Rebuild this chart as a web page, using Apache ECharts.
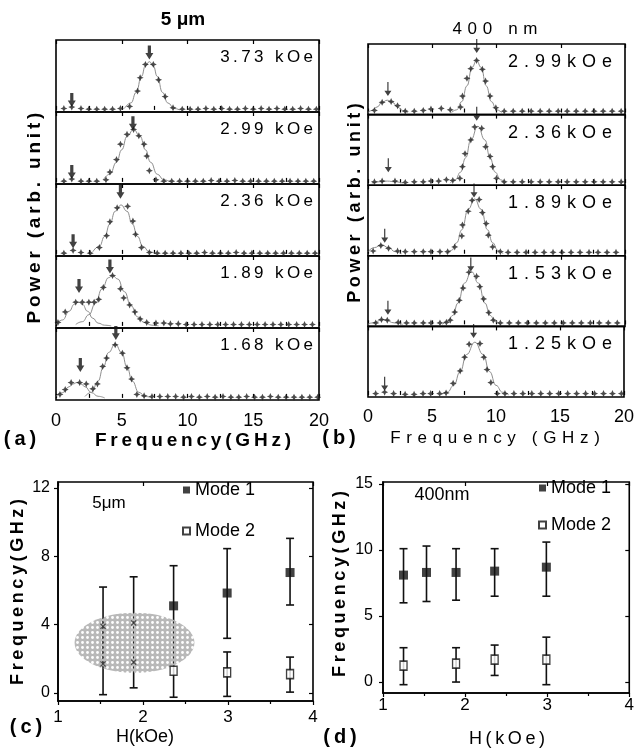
<!DOCTYPE html>
<html>
<head>
<meta charset="utf-8">
<script src="https://cdn.jsdelivr.net/npm/echarts@6/dist/echarts.min.js"></script>
<style>
html, body { margin: 0; padding: 0; background: #fff; }
#chart { width: 637px; height: 748px; }
</style>
</head>
<body>
<div id="chart"></div>
<script>
// ---- spectra, panel (a): 5 um disk, [frequency GHz, power]
const fieldsA = ['3.73 kOe', '2.99 kOe', '2.36 kOe', '1.89 kOe', '1.68 kOe'];
const a373 = [[0.6,0.02],[1.2,0.04],[1.9,0.02],[2.5,0.01],[3.1,0.01],[3.7,0.01],[4.3,0.01],[4.9,0.02],[5.6,0.05],[6.2,0.27],[6.4,0.46],[6.8,0.65],[7.4,0.65],[7.8,0.43],[8.3,0.19],[8.9,0.03],[9.6,0.01],[10.2,0.01],[10.8,0.01],[11.4,0.02],[12.0,0.01],[12.6,0.02],[13.2,0.01],[13.8,0.01],[14.4,0.02],[15.0,0.01],[15.6,0.02],[16.2,0.01],[16.8,0.02],[17.4,0.01],[18.0,0.01],[18.6,0.02],[19.2,0.01],[19.8,0.01]];
const a299 = [[0.6,0.01],[1.2,0.04],[1.9,0.01],[2.5,0.01],[3.1,0.01],[3.8,0.03],[4.1,0.14],[4.6,0.32],[4.9,0.54],[5.4,0.68],[5.9,0.75],[6.3,0.66],[6.7,0.54],[6.9,0.37],[7.1,0.16],[7.6,0.03],[8.2,0.01],[8.8,0.01],[9.4,0.01],[10.0,0.01],[10.6,0.01],[11.2,0.01],[11.8,0.02],[12.4,0.01],[13.0,0.01],[13.6,0.02],[14.2,0.01],[14.8,0.01],[15.4,0.01],[16.0,0.01],[16.6,0.01],[17.2,0.01],[17.8,0.01],[18.4,0.01],[19.0,0.01],[19.6,0.01]];
const a236 = [[0.6,0.01],[1.3,0.05],[1.9,0.02],[2.6,0.01],[3.3,0.09],[3.85,0.26],[4.1,0.46],[4.65,0.66],[5.45,0.68],[5.85,0.47],[6.05,0.28],[6.5,0.09],[7.1,0.02],[7.7,0.01],[8.3,0.01],[8.9,0.01],[9.5,0.01],[10.1,0.01],[10.7,0.01],[11.3,0.02],[11.9,0.01],[12.5,0.01],[13.1,0.01],[13.7,0.02],[14.3,0.01],[14.9,0.01],[15.5,0.01],[16.1,0.01],[16.7,0.01],[17.3,0.01],[17.9,0.01],[18.5,0.01],[19.1,0.01],[19.7,0.01]];
const a189 = [[0.15,0.05],[0.7,0.2],[1.5,0.34],[2.0,0.34],[2.5,0.34],[2.9,0.34],[3.25,0.38],[3.6,0.55],[4.3,0.72],[4.9,0.53],[5.15,0.4],[5.6,0.3],[6.0,0.2],[6.4,0.1],[6.9,0.05],[7.6,0.04],[8.2,0.04],[8.7,0.03],[9.3,0.03],[9.9,0.02],[10.5,0.02],[11.1,0.02],[11.7,0.02],[12.3,0.02],[12.9,0.02],[13.5,0.02],[14.1,0.02],[14.7,0.02],[15.3,0.02],[15.9,0.02],[16.5,0.02],[17.1,0.02],[17.7,0.02],[18.3,0.02],[18.9,0.02],[19.5,0.02]];
const a168 = [[0.3,0.05],[0.7,0.12],[1.15,0.22],[1.8,0.22],[2.3,0.2],[2.8,0.13],[3.15,0.2],[3.55,0.45],[3.85,0.57],[4.5,0.76],[5.05,0.64],[5.4,0.43],[5.75,0.27],[6.15,0.05],[6.7,0.03],[7.3,0.02],[7.9,0.02],[8.5,0.02],[9.1,0.02],[9.7,0.01],[10.3,0.02],[10.9,0.01],[11.5,0.02],[12.1,0.01],[12.7,0.02],[13.3,0.01],[13.9,0.01],[14.5,0.02],[15.1,0.01],[15.7,0.01],[16.3,0.02],[16.9,0.01],[17.5,0.01],[18.1,0.01],[18.7,0.01],[19.3,0.01],[19.9,0.01]];
// fitted curves
const fitA373 = [[5.2,0.02],[5.7,0.1],[6.1,0.25],[6.5,0.48],[6.8,0.63],[7.1,0.69],[7.4,0.63],[7.7,0.48],[8.1,0.25],[8.5,0.1],[9.0,0.02],[9.4,0]];
const fitA299 = [[3.6,0.03],[4.1,0.11],[4.6,0.28],[5.0,0.46],[5.4,0.65],[5.9,0.75],[6.4,0.65],[6.8,0.46],[7.2,0.28],[7.7,0.11],[8.2,0.03],[8.7,0]];
const fitA236 = [[2.8,0.03],[3.3,0.11],[3.7,0.25],[4.1,0.43],[4.5,0.61],[4.95,0.7],[5.4,0.61],[5.8,0.43],[6.2,0.25],[6.6,0.11],[7.1,0.03],[7.6,0]];
const fitA189m2 = [[0,0.02],[0.5,0.085],[1.0,0.21],[1.4,0.31],[1.7,0.34],[2.0,0.31],[2.4,0.21],[2.8,0.11],[3.2,0.04],[3.7,0.01],[4.2,0]];
const fitA189m1 = [[1.5,0.02],[2.0,0.06],[2.5,0.16],[3.0,0.32],[3.5,0.53],[4.0,0.69],[4.3,0.72],[4.7,0.67],[5.2,0.49],[5.7,0.29],[6.2,0.13],[6.7,0.05],[7.3,0.01],[7.8,0]];
const fitA168m2 = [[0,0.023],[0.5,0.075],[1.0,0.16],[1.3,0.2],[1.6,0.22],[1.9,0.2],[2.2,0.16],[2.7,0.075],[3.2,0.023],[3.7,0]];
const fitA168m1 = [[2.2,0.02],[2.7,0.08],[3.2,0.24],[3.6,0.44],[4.0,0.65],[4.5,0.77],[5.0,0.65],[5.4,0.44],[5.8,0.24],[6.3,0.08],[6.8,0.02],[7.3,0]];
// arrow tips [frequency, power]: mode 1, mode 2
const arrowsA = [[[7.1,0.72],[1.2,0.04]], [[5.85,0.74],[1.2,0.04]], [[4.9,0.79],[1.3,0.08]], [[4.1,0.75],[1.75,0.47]], [[4.55,0.83],[1.85,0.37]]];

// ---- spectra, panel (b): 400 nm disk
const fieldsB = ['2.99kOe', '2.36kOe', '1.89kOe', '1.53kOe', '1.25kOe'];
const b299 = [[0.5,0.03],[1.1,0.15],[1.8,0.16],[2.3,0.1],[2.9,0.02],[3.6,0.02],[4.3,0.03],[4.9,0.05],[5.7,0.06],[6.4,0.04],[7.2,0.08],[7.35,0.24],[7.7,0.5],[8.0,0.64],[8.45,0.76],[8.9,0.63],[9.15,0.46],[9.5,0.24],[9.95,0.07],[10.6,0.02],[11.3,0.02],[12.0,0.02],[12.7,0.02],[13.4,0.02],[14.1,0.02],[14.8,0.02],[15.5,0.02],[16.2,0.02],[16.9,0.02],[17.6,0.02],[18.3,0.02],[19.0,0.02],[19.7,0.02]];
const b236 = [[0.5,0.02],[1.1,0.03],[2.1,0.03],[2.9,0.01],[3.6,0.02],[4.3,0.02],[4.9,0.03],[5.5,0.03],[6.1,0.05],[6.6,0.04],[7.15,0.07],[7.35,0.24],[7.55,0.43],[8.0,0.63],[8.3,0.82],[8.85,0.8],[9.15,0.53],[9.5,0.39],[9.7,0.24],[10.0,0.07],[10.6,0.02],[11.3,0.02],[12.0,0.02],[12.7,0.02],[13.4,0.02],[14.1,0.02],[14.8,0.02],[15.5,0.02],[16.2,0.02],[16.9,0.02],[17.6,0.02],[18.3,0.02],[19.0,0.02],[19.7,0.02]];
const b189 = [[0.4,0.04],[1.0,0.12],[1.6,0.08],[2.3,0.04],[2.9,0.03],[3.6,0.03],[4.3,0.03],[4.9,0.03],[5.6,0.03],[6.2,0.03],[6.75,0.1],[7.3,0.26],[7.35,0.42],[7.8,0.62],[8.1,0.78],[8.65,0.79],[8.9,0.6],[9.2,0.44],[9.36,0.27],[9.7,0.1],[10.3,0.03],[10.9,0.02],[11.6,0.02],[12.3,0.02],[13.0,0.02],[13.7,0.02],[14.4,0.02],[15.1,0.02],[15.8,0.02],[16.5,0.02],[17.2,0.02],[17.9,0.02],[18.6,0.02],[19.3,0.02]];
const b153 = [[0.6,0.02],[1.05,0.07],[1.5,0.06],[2.35,0.03],[3.0,0.02],[3.6,0.02],[4.3,0.02],[4.9,0.02],[5.6,0.02],[6.1,0.03],[6.4,0.06],[6.75,0.18],[7.1,0.35],[7.4,0.53],[7.85,0.76],[8.45,0.7],[8.7,0.55],[9.0,0.37],[9.4,0.17],[9.75,0.06],[10.3,0.02],[11.0,0.02],[11.7,0.02],[12.4,0.02],[13.1,0.02],[13.8,0.02],[14.5,0.02],[15.2,0.02],[15.9,0.02],[16.6,0.02],[17.3,0.02],[18.0,0.02],[18.7,0.02],[19.4,0.02]];
const b125 = [[0.6,0.02],[1.3,0.04],[2.0,0.02],[2.9,0.01],[3.6,0.01],[4.3,0.02],[4.9,0.02],[5.6,0.02],[6.1,0.03],[6.65,0.17],[7.2,0.35],[7.55,0.55],[7.9,0.74],[8.75,0.75],[9.05,0.55],[9.3,0.37],[9.6,0.18],[10.1,0.02],[10.7,0.02],[11.4,0.02],[12.1,0.02],[12.8,0.02],[13.5,0.02],[14.2,0.02],[14.9,0.02],[15.6,0.02],[16.3,0.02],[17.0,0.02],[17.7,0.02],[18.4,0.02],[19.1,0.02],[19.8,0.02]];
const fitB299 = [[6.5,0],[6.9,0.04],[7.3,0.16],[7.7,0.39],[8.1,0.66],[8.45,0.76],[8.8,0.66],[9.2,0.39],[9.6,0.16],[10.0,0.04],[10.4,0]];
const fitB299m2 = [[0,0],[0.3,0.03],[0.7,0.08],[1.1,0.15],[1.5,0.18],[1.9,0.15],[2.3,0.08],[2.7,0.03],[3.1,0]];
const fitB236 = [[6.4,0],[6.8,0.05],[7.2,0.16],[7.6,0.37],[8.0,0.63],[8.55,0.83],[9.1,0.63],[9.5,0.37],[9.9,0.16],[10.3,0.05],[10.7,0]];
const fitB236m2 = [[0.3,0],[0.9,0.02],[1.5,0.03],[2.1,0.02],[2.7,0]];
const fitB189 = [[6.1,0],[6.5,0.05],[6.9,0.16],[7.3,0.35],[7.8,0.65],[8.3,0.8],[8.8,0.65],[9.3,0.35],[9.7,0.16],[10.1,0.05],[10.5,0]];
const fitB189m2 = [[0,0.03],[0.5,0.09],[1.05,0.13],[1.6,0.09],[2.1,0.03],[2.6,0]];
const fitB153 = [[5.8,0],[6.2,0.04],[6.6,0.13],[7.0,0.31],[7.5,0.6],[8.05,0.77],[8.6,0.6],[9.1,0.31],[9.5,0.13],[9.9,0.04],[10.3,0]];
const fitB153m2 = [[0,0],[0.3,0.02],[1.2,0.07],[2.1,0.02],[2.7,0]];
const fitB125 = [[5.7,0],[6.2,0.04],[6.7,0.14],[7.2,0.34],[7.7,0.59],[8.35,0.77],[9.0,0.59],[9.5,0.34],[10.0,0.14],[10.5,0.04],[11.0,0]];
const arrowsB = [[[8.46,0.87],[1.55,0.24]], [[8.46,0.91],[1.58,0.16]], [[8.25,0.82],[1.3,0.16]], [[8.0,0.77],[1.55,0.14]], [[8.25,0.83],[1.3,0.06]]];

// ---- panel (c): 5 um, frequency vs field
const cH1 = [2.36, 2.99, 3.73];
const cMode1 = [5.1, 5.85, 7.05];
const cMode1Lo = [2.8, 3.2, 5.15];
const cMode1Hi = [7.45, 8.45, 9.05];
const cH2 = [2.36, 2.99, 3.73];
const cMode2 = [1.3, 1.2, 1.1];
const cMode2Lo = [-0.25, -0.2, 0.05];
const cMode2Hi = [2.8, 2.4, 2.1];
const cOldH = [1.53, 1.89];
const cOldLo = [-0.1, 0.3];
const cOldHi = [6.2, 6.8];
const cOldUp = [3.9, 4.1];
const cOldDn = [1.7, 1.8];
const cOval = [1.9, 2.94, 0.705, 1.76]; // centre H, centre f, half-width H, half-height f

// ---- panel (d): 400 nm
const dH1 = [1.25, 1.53, 1.89, 2.36, 2.99];
const dMode1 = [8.1, 8.3, 8.3, 8.4, 8.7];
const dMode1Lo = [6.0, 6.1, 6.2, 6.5, 6.5];
const dMode1Hi = [10.1, 10.3, 10.1, 10.1, 10.6];
const dH2 = [1.25, 1.89, 2.36, 2.99];
const dMode2 = [1.25, 1.4, 1.7, 1.7];
const dMode2Lo = [-0.2, 0.0, 0.5, -0.2];
const dMode2Hi = [2.6, 2.6, 2.8, 3.4];

const cYTicks = [0, 4, 8, 12];
const dYTicks = [0, 5, 10, 15];

const FONT = '"Liberation Sans", Arial, sans-serif';
const thin = s => s.split('').join('\u2009');
const wide = s => s.split('').join('\u2004');

const starSym = 'path://M5,0 L6.6,3.4 L10,5 L6.6,6.6 L5,10 L3.4,6.6 L0,5 L3.4,3.4 Z';
const boldArrow = 'path://M3,0 L7,0 L7,8 L10,8 L5,15 L0,8 L3,8 Z';
const thinArrow = 'path://M4.3,0 L5.7,0 L5.7,10 L9,10 L5,16 L1,10 L4.3,10 Z';
const crossSym = 'path://M0,1.5 L1.5,0 L5,3.5 L8.5,0 L10,1.5 L6.5,5 L10,8.5 L8.5,10 L5,6.5 L1.5,10 L0,8.5 L3.5,5 Z';

// grey dotted fill for the oval, dots left transparent
const pat = document.createElement('canvas');
pat.width = 5; pat.height = 5;
const pctx = pat.getContext('2d');
pctx.fillStyle = '#b9b9b9';
pctx.fillRect(0, 0, 5, 5);
pctx.globalCompositeOperation = 'destination-out';
pctx.beginPath();
pctx.arc(2.5, 2.5, 1.4, 0, Math.PI * 2);
pctx.fill();

const panels = [
  { side: 'A', pts: a373, fits: [fitA373], arrows: arrowsA[0], label: fieldsA[0] },
  { side: 'A', pts: a299, fits: [fitA299], arrows: arrowsA[1], label: fieldsA[1] },
  { side: 'A', pts: a236, fits: [fitA236], arrows: arrowsA[2], label: fieldsA[2] },
  { side: 'A', pts: a189, fits: [fitA189m2, fitA189m1], arrows: arrowsA[3], label: fieldsA[3] },
  { side: 'A', pts: a168, fits: [fitA168m2, fitA168m1], arrows: arrowsA[4], label: fieldsA[4] },
  { side: 'B', pts: b299, fits: [fitB299m2, fitB299], arrows: arrowsB[0], label: fieldsB[0] },
  { side: 'B', pts: b236, fits: [fitB236m2, fitB236], arrows: arrowsB[1], label: fieldsB[1] },
  { side: 'B', pts: b189, fits: [fitB189m2, fitB189], arrows: arrowsB[2], label: fieldsB[2] },
  { side: 'B', pts: b153, fits: [fitB153m2, fitB153], arrows: arrowsB[3], label: fieldsB[3] },
  { side: 'B', pts: b125, fits: [fitB125], arrows: arrowsB[4], label: fieldsB[4] }
];

const grids = [], xAxes = [], yAxes = [], series = [], graphics = [];

function txt(x, y, text, font, extra, align) {
  graphics.push(Object.assign({
    type: 'text', x: x, y: y,
    style: { text: text, font: font, fill: '#000', align: align || 'center', verticalAlign: 'middle' }
  }, extra || {}));
}

panels.forEach((p, g) => {
  const isA = p.side === 'A';
  const k = isA ? g : g - 5;
  const left = isA ? 56 : 368, width = isA ? 263 : 257;
  const h = isA ? 72 : 70.6;
  const top = (isA ? 40 : 44) + k * h;
  grids.push({ left: left, top: top, width: width, height: h, show: true,
    borderColor: '#000', borderWidth: 1.6, backgroundColor: 'transparent' });
  const xi = xAxes.length;
  xAxes.push({
    gridIndex: g, type: 'value', min: 0, max: 20, interval: 2.5,
    axisLine: { show: false }, splitLine: { show: false },
    axisTick: { inside: true, length: 4, lineStyle: { color: '#000', width: 1.2 } },
    axisLabel: { show: k === 4, margin: isA ? 12 : 11, color: '#000', fontSize: 18, fontFamily: FONT,
      formatter: v => (v % 5 === 0 ? String(v) : '') }
  });
  xAxes.push({
    gridIndex: g, type: 'value', position: 'top', min: 0, max: 20, interval: 5,
    axisLine: { show: false }, splitLine: { show: false }, axisLabel: { show: false },
    axisTick: { inside: true, length: 4, lineStyle: { color: '#000', width: 1.2 } }
  });
  yAxes.push({ gridIndex: g, type: 'value', min: -0.03, max: 1, show: false });
  p.fits.forEach(f => series.push({
    type: 'line', xAxisIndex: xi, yAxisIndex: g, data: f, smooth: true, smoothMonotone: 'x',
    showSymbol: false, silent: true, z: 2, lineStyle: { color: '#8e8e8e', width: 1 }
  }));
  series.push({
    type: 'scatter', xAxisIndex: xi, yAxisIndex: g, data: p.pts, symbol: starSym, symbolSize: 7,
    itemStyle: { color: '#1e1e1e' }, z: 3
  });
  series.push({
    type: 'scatter', xAxisIndex: xi, yAxisIndex: g, data: p.arrows, clip: false,
    symbol: isA ? boldArrow : thinArrow, symbolSize: isA ? [8, 14] : [7, 14],
    symbolOffset: [0, '-50%'], itemStyle: { color: '#111' }, z: 4
  });
  if (isA) txt(left + width - 6, top + 17, thin(p.label), '17px ' + FONT, null, 'right');
  else txt(left + width - 13, top + 18, wide(p.label), '18px ' + FONT, null, 'right');
});

// ---- panels (c) and (d)
function errorBar(params, api) {
  const x = api.value(0);
  const lo = api.coord([x, api.value(1)]);
  const hi = api.coord([x, api.value(2)]);
  const cap = 4;
  const st = { stroke: '#111', lineWidth: 1.6 };
  return { type: 'group', children: [
    { type: 'line', shape: { x1: lo[0], y1: lo[1], x2: hi[0], y2: hi[1] }, style: st },
    { type: 'line', shape: { x1: lo[0] - cap, y1: lo[1], x2: lo[0] + cap, y2: lo[1] }, style: st },
    { type: 'line', shape: { x1: hi[0] - cap, y1: hi[1], x2: hi[0] + cap, y2: hi[1] }, style: st }
  ] };
}
const bars = (hs, lo, hi) => hs.map((h, i) => [h, lo[i], hi[i]]);
const pairs = (hs, vs) => hs.map((h, i) => [h, vs[i]]);

function freqPanel(g, cfg) {
  grids.push({ left: cfg.left, top: 482, width: cfg.width, height: cfg.height, show: true,
    borderColor: '#000', borderWidth: 1.6, backgroundColor: 'transparent' });
  const xi = xAxes.length, yi = yAxes.length;
  xAxes.push({
    gridIndex: g, type: 'value', min: 1, max: 4, interval: 1,
    axisLine: { onZero: false, lineStyle: { color: '#000', width: 1.6 } }, splitLine: { show: false },
    axisTick: { length: 4, lineStyle: { color: '#000', width: 1.2 } },
    minorTick: { show: true, splitNumber: 2, length: 3, lineStyle: { color: '#000', width: 1.2 } },
    axisLabel: { margin: cfg.xMargin, color: '#000', fontSize: 17, fontFamily: FONT }
  });
  xAxes.push({
    gridIndex: g, type: 'value', position: 'top', min: 1, max: 4, interval: 1,
    axisLine: { show: false, onZero: false }, splitLine: { show: false }, axisLabel: { show: false },
    axisTick: { inside: true, length: 4, lineStyle: { color: '#000', width: 1.2 } }
  });
  yAxes.push({
    gridIndex: g, type: 'value', min: cfg.yMin, max: cfg.yMax,
    axisLine: { show: true, onZero: false, lineStyle: { color: '#000', width: 1.6 } }, splitLine: { show: false },
    axisTick: { show: true, length: 4, customValues: cfg.ticks, lineStyle: { color: '#000', width: 1.2 } },
    axisLabel: { customValues: cfg.ticks, margin: cfg.yMargin, color: '#000', fontSize: 16, fontFamily: FONT }
  });
  yAxes.push({
    gridIndex: g, type: 'value', position: 'right', min: cfg.yMin, max: cfg.yMax,
    axisLine: { show: false, onZero: false }, splitLine: { show: false }, axisLabel: { show: false },
    axisTick: { show: true, inside: true, length: 4, customValues: cfg.ticks, lineStyle: { color: '#000', width: 1.2 } }
  });
  const bar = data => series.push({
    type: 'custom', xAxisIndex: xi, yAxisIndex: yi, renderItem: errorBar, data: data,
    encode: { x: 0, y: [1, 2] }, silent: true, z: 2
  });
  bar(bars(cfg.h1, cfg.lo1, cfg.hi1));
  bar(bars(cfg.h2, cfg.lo2, cfg.hi2));
  if (cfg.oldH) bar(bars(cfg.oldH, cfg.oldLo, cfg.oldHi));
  if (cfg.oval) {
    series.push({
      type: 'custom', xAxisIndex: xi, yAxisIndex: yi, data: [cfg.oval], silent: true, z: 3,
      encode: { x: 0, y: 1 },
      renderItem: (params, api) => {
        const c = api.coord([api.value(0), api.value(1)]);
        const s = api.size([api.value(2), api.value(3)]);
        return { type: 'ellipse', shape: { cx: c[0], cy: c[1], rx: s[0], ry: s[1] },
          style: { fill: { image: pat, repeat: 'repeat' } } };
      }
    });
    series.push({
      type: 'scatter', xAxisIndex: xi, yAxisIndex: yi, symbol: crossSym, symbolSize: 6,
      data: pairs(cfg.oldH, cfg.oldUp).concat(pairs(cfg.oldH, cfg.oldDn)),
      itemStyle: { color: '#333' }, z: 4
    });
  }
  series.push({
    name: 'Mode 1', type: 'scatter', xAxisIndex: xi, yAxisIndex: yi, data: pairs(cfg.h1, cfg.m1),
    symbol: 'rect', symbolSize: 9, itemStyle: { color: '#111' }, z: 5
  });
  series.push({
    name: 'Mode 2', type: 'scatter', xAxisIndex: xi, yAxisIndex: yi, data: pairs(cfg.h2, cfg.m2),
    symbol: 'rect', symbolSize: [7, 9], itemStyle: { color: '#fff', borderColor: '#111', borderWidth: 1.5 }, z: 5
  });
}

freqPanel(10, {
  left: 58, width: 255, height: 219, yMin: -0.47, yMax: 12.35, ticks: cYTicks, xMargin: 8, yMargin: 8,
  h1: cH1, m1: cMode1, lo1: cMode1Lo, hi1: cMode1Hi,
  h2: cH2, m2: cMode2, lo2: cMode2Lo, hi2: cMode2Hi,
  oldH: cOldH, oldLo: cOldLo, oldHi: cOldHi, oldUp: cOldUp, oldDn: cOldDn, oval: cOval
});
freqPanel(11, {
  left: 383, width: 249, height: 211, yMin: -0.83, yMax: 15.15, ticks: dYTicks, xMargin: 4, yMargin: 10,
  h1: dH1, m1: dMode1, lo1: dMode1Lo, hi1: dMode1Hi,
  h2: dH2, m2: dMode2, lo2: dMode2Lo, hi2: dMode2Hi
});

// ---- titles and axis names
const R = Math.PI / 2;
txt(183, 20, '5 μm', 'bold 19px ' + FONT);
txt(495, 29, wide('400 nm'), '17px ' + FONT);
txt(35, 218, thin('Power (arb. unit)'), 'bold 19px ' + FONT, { rotation: R });
txt(355, 203, thin('Power (arb. unit)'), 'bold 18px ' + FONT, { rotation: R });
txt(20, 439, thin('(a)'), 'bold 20px ' + FONT);
txt(193, 441, thin('Frequency(GHz)'), 'bold 19px ' + FONT);
txt(339, 438, thin('(b)'), 'bold 20px ' + FONT);
txt(495, 438, wide('Frequency (GHz)'), '17px ' + FONT);
txt(26, 727, thin('(c)'), 'bold 20px ' + FONT);
txt(145, 737, 'H(kOe)', '18px ' + FONT);
txt(18, 592, thin('Frequency(GHz)'), 'bold 18px ' + FONT, { rotation: R });
txt(109, 503, '5μm', '17px ' + FONT);
txt(340, 737, thin('(d)'), 'bold 20px ' + FONT);
txt(507, 739, thin('H(kOe)'), '18px ' + FONT);
txt(340, 584, thin('Frequency(GHz)'), 'bold 18px ' + FONT, { rotation: R });
txt(442, 495, '400nm', '18px ' + FONT);

const chart = echarts.init(document.getElementById('chart'), null, { renderer: 'canvas' });
chart.setOption({
  animation: false,
  backgroundColor: '#fff',
  textStyle: { fontFamily: FONT },
  grid: grids,
  xAxis: xAxes,
  yAxis: yAxes,
  legend: [
    { left: 182, top: 481, orient: 'vertical', padding: 0, itemWidth: 7, itemHeight: 7, itemGap: 23,
      data: ['Mode 1', 'Mode 2'], textStyle: { fontSize: 18, color: '#000', fontFamily: FONT } },
    { left: 538, top: 479, orient: 'vertical', padding: 0, itemWidth: 7, itemHeight: 7, itemGap: 19,
      data: ['Mode 1', 'Mode 2'], textStyle: { fontSize: 18, color: '#000', fontFamily: FONT } }
  ],
  graphic: graphics,
  series: series
});
</script>
</body>
</html>
